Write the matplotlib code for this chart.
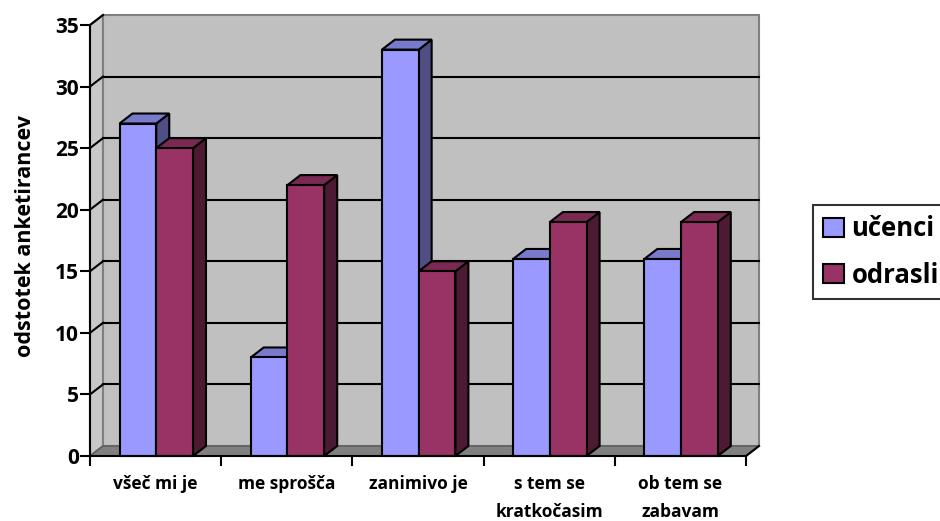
import matplotlib.pyplot as plt
from matplotlib.patches import Polygon, Patch

categories = ["všeč mi je", "me sprošča", "zanimivo je", "s tem se\nkratkočasim", "ob tem se\nzabavam"]
series_names = ["učenci", "odrasli"]
ucenci = [27, 8, 33, 16, 16]
odrasli = [25, 22, 15, 19, 19]
y_ticks = [0, 5, 10, 15, 20, 25, 30, 35]

front_colors = ["#9999FF", "#993366"]
top_colors = ["#7A7ACC", "#7A2952"]
side_colors = ["#4F4F85", "#4D1A33"]

plt.rcParams["font.family"] = ["Open Sans", "DejaVu Sans"]
plt.rcParams["font.weight"] = "bold"

fig = plt.figure(figsize=(9.4, 5.21), dpi=100)
ax = fig.add_axes([90 / 940, 65 / 521, 656 / 940, 431 / 521])
ax.set_xlim(0, len(categories))
ax.set_ylim(0, 35)

# depth offset of the 3d walls in data units
dx = 13 / 131.2
dy = 10 / 12.31
ymax = y_ticks[-1]
n = len(categories)

# walls and floor
ax.add_patch(Polygon([(0, 0), (dx, dy), (dx, ymax + dy), (0, ymax)],
                     closed=True, fc="#C8C8C8", ec="#808080", lw=1.5, clip_on=False, zorder=1))
ax.add_patch(Polygon([(dx, dy), (n + dx, dy), (n + dx, ymax + dy), (dx, ymax + dy)],
                     closed=True, fc="#C0C0C0", ec="#808080", lw=1.5, clip_on=False, zorder=1))
ax.add_patch(Polygon([(0, 0), (n, 0), (n + dx, dy), (dx, dy)],
                     closed=True, fc="#808080", ec="#606060", lw=1.2, clip_on=False, zorder=1))

for v in y_ticks[1:-1]:
    ax.plot([dx, n + dx], [v + dy, v + dy], color="black", lw=1.5, clip_on=False, zorder=2)
    ax.plot([0, dx], [v, v + dy], color="black", lw=1.5, clip_on=False, zorder=2)
ax.plot([0, dx], [ymax, ymax + dy], color="black", lw=1.5, clip_on=False, zorder=2)
ax.plot([n, n + dx], [0, dy], color="black", lw=1.5, clip_on=False, zorder=2)

# bars
bar_w = 0.28
offset = 0.225
for i in range(n):
    for j, vals in enumerate([ucenci, odrasli]):
        x0 = i + offset + j * bar_w
        x1 = x0 + bar_w
        h = vals[i]
        kw = dict(closed=True, ec="black", lw=1.5, joinstyle="miter", clip_on=False, zorder=3)
        ax.add_patch(Polygon([(x1, 0), (x1 + dx, dy), (x1 + dx, h + dy), (x1, h)],
                             fc=side_colors[j], **kw))
        ax.add_patch(Polygon([(x0, h), (x1, h), (x1 + dx, h + dy), (x0 + dx, h + dy)],
                             fc=top_colors[j], **kw))
        ax.add_patch(Polygon([(x0, 0), (x1, 0), (x1, h), (x0, h)],
                             fc=front_colors[j], **kw))

# axes
for s in ["top", "right"]:
    ax.spines[s].set_visible(False)
for s in ["left", "bottom"]:
    ax.spines[s].set_linewidth(1.5)
    ax.spines[s].set_zorder(4)
ax.set_facecolor("none")
ax.set_yticks(y_ticks)
ax.set_yticklabels([str(t) for t in y_ticks], fontsize=15, fontweight="bold")
ax.set_xticks(range(n + 1))
ax.set_xticklabels([])
ax.set_xticks([i + 0.5 for i in range(n)], minor=True)
ax.set_xticklabels(categories, minor=True, fontsize=12.5, fontweight="bold", linespacing=1.7, va="top")
ax.tick_params(axis="both", which="major", direction="out", length=7, width=1.5, pad=1)
ax.tick_params(axis="x", which="minor", length=0, pad=14)
ax.set_ylabel("odstotek anketirancev", fontsize=15.5, fontweight="bold")
ax.yaxis.set_label_coords(-0.083, 0.51)

handles = [Patch(fc=front_colors[k], ec="black", lw=1.5) for k in range(2)]
leg = fig.legend(handles, series_names, loc="upper left",
                 bbox_to_anchor=(813 / 940, 1 - 205 / 521), borderaxespad=0,
                 fancybox=False, edgecolor="black",
                 handlelength=0.8, handleheight=0.8, handletextpad=0.3,
                 labelspacing=0.75, borderpad=0.4, prop={"weight": "bold", "size": 18.5})
leg.get_frame().set_linewidth(1.5)

fig.savefig("out.png", dpi=100)
